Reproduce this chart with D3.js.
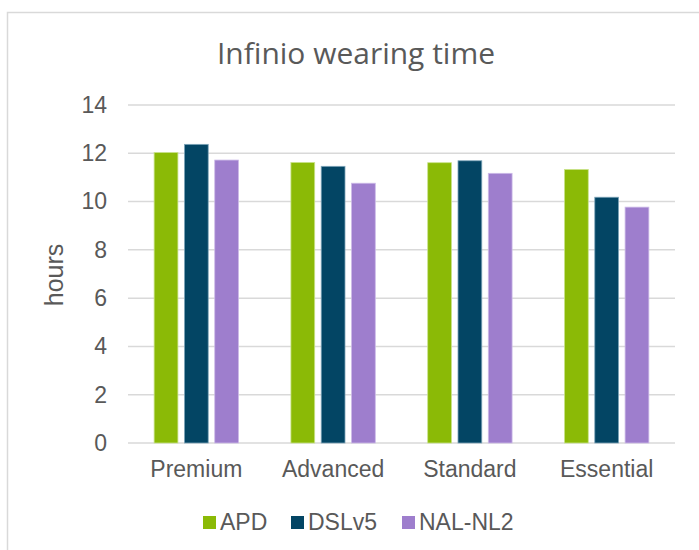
<!DOCTYPE html>
<html><head><meta charset="utf-8">
<script src="https://cdn.jsdelivr.net/npm/d3@7"></script>
<style>body{margin:0;background:#fff}svg{display:block}</style>
</head><body>
<svg id="c" width="699" height="550"></svg>
<script>
const categories = ["Premium", "Advanced", "Standard", "Essential"];
const seriesNames = ["APD", "DSLv5", "NAL-NL2"];
const APD = [12.03, 11.62, 11.61, 11.33];
const DSLv5 = [12.37, 11.46, 11.69, 10.18];
const NALNL2 = [11.72, 10.76, 11.17, 9.77];
const yTicks = [0, 2, 4, 6, 8, 10, 12, 14];
const colors = ["#8bba06", "#034564", "#9e7ecd"];
const strokes = ["#c9e38a", "#7fa6ba", "#cdbbe8"];
const seriesValues = [APD, DSLv5, NALNL2];

const svg = d3.select("#c");
const textColor = "#595959";
const font = "'Liberation Sans', Arial, sans-serif";

// outer border
svg.append("rect").attr("x", 7.5).attr("y", 12.5).attr("width", 720).attr("height", 560)
  .attr("fill", "none").attr("stroke", "#d9d9d9").attr("stroke-width", 1.5);

const pLeft = 128, pRight = 675, pTop = 105, pBottom = 443;
const x = d3.scaleBand().domain(categories).range([pLeft, pRight]).paddingInner(0.383).paddingOuter(0.191);
const xi = d3.scaleBand().domain(seriesNames).range([0, x.bandwidth()]).paddingInner(0.215);
const y = d3.scaleLinear().domain([0, 14]).range([pBottom, pTop]);

// gridlines
svg.append("g").selectAll("line").data(yTicks).join("line")
  .attr("x1", pLeft).attr("x2", pRight)
  .attr("y1", d => y(d)).attr("y2", d => y(d))
  .attr("stroke", "#d9d9d9").attr("stroke-width", 1.5);

// bars
seriesNames.forEach((s, si) => {
  svg.append("g").selectAll("rect").data(categories).join("rect")
    .attr("x", c => x(c) + xi(s))
    .attr("y", (c, i) => y(seriesValues[si][i]))
    .attr("width", xi.bandwidth())
    .attr("height", (c, i) => y(0) - y(seriesValues[si][i]))
    .attr("fill", colors[si])
    .attr("stroke", strokes[si]).attr("stroke-width", 0.8);
});

// y axis
const yAxis = svg.append("g").attr("transform", `translate(${pLeft},0)`)
  .call(d3.axisLeft(y).tickValues(yTicks).tickSize(0).tickPadding(21));
yAxis.select(".domain").remove();
yAxis.selectAll("text").attr("font-family", font).attr("font-size", 23).attr("fill", textColor);

// x axis
const xAxis = svg.append("g").attr("transform", `translate(0,${pBottom})`)
  .call(d3.axisBottom(x).tickSize(0).tickPadding(18));
xAxis.select(".domain").remove();
xAxis.selectAll("text").attr("font-family", font).attr("font-size", 23).attr("fill", textColor);

// y label
svg.append("text").attr("transform", "translate(63,275) rotate(-90)")
  .attr("text-anchor", "middle").attr("font-family", font).attr("font-size", 25)
  .attr("fill", textColor).text("hours");

// title
svg.append("text").attr("x", 356).attr("y", 64).attr("text-anchor", "middle")
  .attr("font-family", "'Open Sans', 'Noto Sans', sans-serif").attr("font-size", 30)
  .attr("textLength", 278).attr("lengthAdjust", "spacingAndGlyphs")
  .attr("fill", textColor).text("Infinio wearing time");

// legend
const legendX = [203, 291, 402];
const lg = svg.append("g").selectAll("g").data(seriesNames).join("g")
  .attr("transform", (d, i) => `translate(${legendX[i]},516)`);
lg.append("rect").attr("width", 13).attr("height", 13).attr("fill", (d, i) => colors[i]);
lg.append("text").attr("x", 17).attr("y", 13.5).attr("font-family", font).attr("font-size", 23)
  .attr("fill", textColor).text(d => d);
</script>
</body></html>
